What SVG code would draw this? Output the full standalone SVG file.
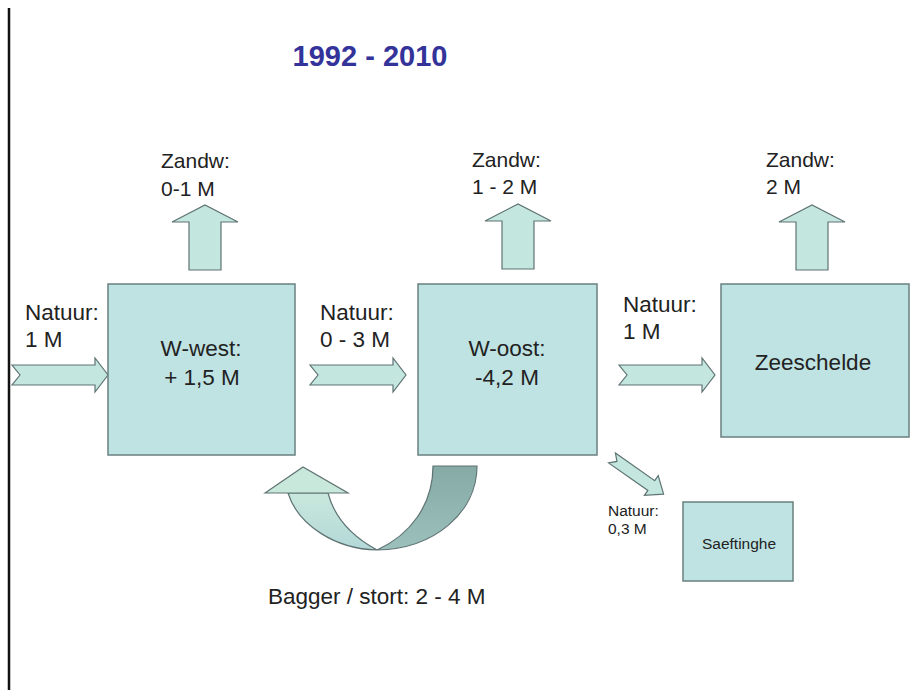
<svg xmlns="http://www.w3.org/2000/svg" width="917" height="697" viewBox="0 0 917 697">
<style>
.box{fill:#bfe2e2;stroke:#6a8080;stroke-width:1.5}
.arr{fill:#c3e6df;stroke:#5f7373;stroke-width:1.2}
.t{font-family:"Liberation Sans",Arial,sans-serif;fill:#222;font-size:21px}
.b{font-size:22.5px}
.c{text-anchor:middle}
.s{font-size:15.5px}
</style>
<defs>
<path id="rarr" d="M0,-10 L83,-10 L83,-17 L96,0 L83,17 L83,10 L0,10 L8,0 Z"/>
<path id="uarr" d="M-16,65 L-16,17 L-33,17 L0,0 L33,17 L16,17 L16,65 Z"/>
<linearGradient id="gl" x1="0" y1="0" x2="0" y2="1"><stop offset="0" stop-color="#c9e8dc"/><stop offset="1" stop-color="#b3d8d8"/></linearGradient>
<linearGradient id="gr" x1="0" y1="0" x2="0" y2="1"><stop offset="0" stop-color="#86aaa6"/><stop offset="1" stop-color="#9cc0bb"/></linearGradient>
</defs>
<rect width="917" height="697" fill="#fff"/>
<line x1="9" y1="8" x2="9" y2="690" stroke="#111" stroke-width="2.5"/>
<text class="t" x="370" y="66" text-anchor="middle" style="font-weight:bold;font-size:29px;fill:#33339a">1992 - 2010</text>

<g id="connectors">
<use href="#rarr" x="12" y="375" class="arr"/>
<use href="#rarr" x="310" y="375" class="arr"/>
<use href="#rarr" x="619" y="375" class="arr"/>
<use href="#uarr" x="205" y="205" class="arr"/>
<use href="#uarr" x="518" y="204" class="arr"/>
<use href="#uarr" x="812" y="205" class="arr"/>
<path class="arr" d="M0,-6 L48,-6 L48,-12 L63,0 L48,12 L48,6 L0,6 L6,0 Z" transform="translate(612,458) rotate(35)"/>
<g id="bagger">
<path d="M433,466 L477,466 C477,512 435,549 377,550 C410,535 433,505 433,466 Z" fill="url(#gr)" stroke="#5f7373" stroke-width="1.2"/>
<path d="M288,493 C298,525 335,549 377,550 C355,538 335,520 328,493 Z" fill="url(#gl)" stroke="#5f7373" stroke-width="1.2"/>
<path d="M265,493 L303,467 L348,493 Z" fill="#c9e8dc" stroke="#5f7373" stroke-width="1.2"/>
</g>
</g>

<g id="wwest">
<rect class="box" x="108" y="284" width="187" height="171"/>
<text class="t b c" x="201" y="356">W-west:</text>
<text class="t b c" x="202" y="385">+ 1,5 M</text>
</g>
<g id="woost">
<rect class="box" x="418" y="284" width="179" height="171"/>
<text class="t b c" x="507" y="356">W-oost:</text>
<text class="t b c" x="507" y="385">-4,2 M</text>
</g>
<g id="zeeschelde">
<rect class="box" x="721" y="284" width="188" height="153"/>
<text class="t b c" x="813" y="370">Zeeschelde</text>
</g>
<g id="saeftinghe">
<rect class="box" x="683" y="502" width="110" height="79"/>
<text class="t c s" x="739" y="549">Saeftinghe</text>
</g>

<g id="labels">
<text class="t" x="161" y="168">Zandw:</text>
<text class="t" x="161" y="196">0-1 M</text>
<text class="t" x="472" y="167">Zandw:</text>
<text class="t" x="472" y="194">1 - 2 M</text>
<text class="t" x="766" y="167">Zandw:</text>
<text class="t" x="766" y="194">2 M</text>
<text class="t b" x="25" y="320">Natuur:</text>
<text class="t b" x="25" y="347">1 M</text>
<text class="t b" x="320" y="320">Natuur:</text>
<text class="t b" x="320" y="347">0 - 3 M</text>
<text class="t b" x="623" y="312">Natuur:</text>
<text class="t b" x="623" y="339">1 M</text>
<text class="t s" x="608" y="516">Natuur:</text>
<text class="t s" x="608" y="534">0,3 M</text>
<text class="t b" x="268" y="604">Bagger / stort: 2 - 4 M</text>
</g>
</svg>
